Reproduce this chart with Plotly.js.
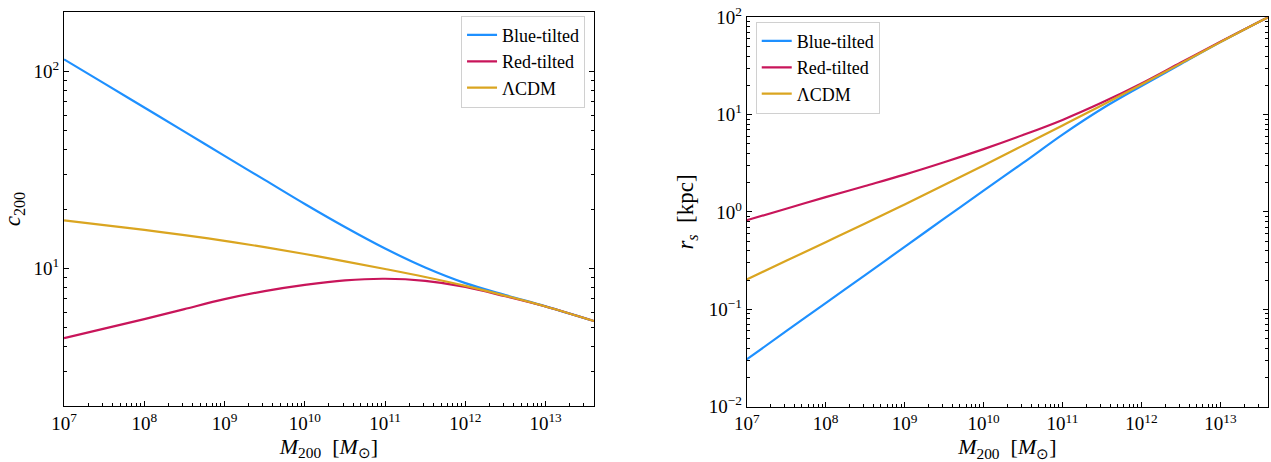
<!DOCTYPE html>
<html><head><meta charset="utf-8">
<script src="https://cdn.plot.ly/plotly-3.0.1.min.js"></script>
<style>html,body{margin:0;padding:0;background:#fff}#chart{width:1271px;height:462px}</style>
</head><body><div id="chart"></div>
<script>
// Halo mass grid [M_sun]
const mass = [1e7, 3.16e7, 1e8, 3.16e8, 1e9, 3.16e9, 1e10, 3.16e10, 1e11, 3.16e11, 1e12, 3.16e12, 1e13, 4e13];
// Concentration c200
const c200Blue = [115, 86.8, 65.5, 49.4, 37.2, 28.1, 21.2, 16.2, 12.6, 10.1, 8.41, 7.31, 6.41, 5.40];
const c200Red  = [4.42, 4.94, 5.52, 6.21, 6.97, 7.66, 8.24, 8.69, 8.85, 8.63, 8.05, 7.21, 6.40, 5.40];
const c200LCDM = [17.5, 16.58, 15.67, 14.74, 13.79, 12.81, 11.82, 10.85, 9.92, 9.03, 8.14, 7.25, 6.40, 5.40];
// Scale radius r_s [kpc]
const rsBlue = [0.0306, 0.0596, 0.116, 0.225, 0.439, 0.853, 1.66, 3.19, 6.24, 11.5, 19.7, 33.1, 55.6, 100];
const rsRed  = [0.822, 1.08, 1.42, 1.85, 2.42, 3.24, 4.42, 6.17, 8.83, 13.3, 20.9, 34.3, 56.2, 100];
const rsLCDM = [0.203, 0.315, 0.489, 0.762, 1.197, 1.892, 3.01, 4.82, 7.74, 12.5, 20.4, 33.6, 55.6, 100];

const seriesNames = ['Blue-tilted', 'Red-tilted', 'ΛCDM'];
const xTickVals = [1e7, 1e8, 1e9, 1e10, 1e11, 1e12, 1e13];
const xTickText = ['10<sup>7</sup>', '10<sup>8</sup>', '10<sup>9</sup>', '10<sup>10</sup>', '10<sup>11</sup>', '10<sup>12</sup>', '10<sup>13</sup>'];
const y1TickVals = [10, 100];
const y1TickText = ['10<sup>1</sup>', '10<sup>2</sup>'];
const y2TickVals = [0.01, 0.1, 1, 10, 100];
const y2TickText = ['10<sup>−2</sup>', '10<sup>−1</sup>', '10<sup>0</sup>', '10<sup>1</sup>', '10<sup>2</sup>'];

const colors = ['#1E90FF', '#C8155A', '#DAA520'];
const FONT = 'Liberation Serif, Times New Roman, serif';

function tr(y, i, xa, ya, leg) {
  return {x: mass, y: y, type: 'scatter', mode: 'lines', name: seriesNames[i],
    xaxis: xa, yaxis: ya, legend: leg,
    line: {color: colors[i], width: 2.2, shape: 'spline', smoothing: 1}};
}
const data = [
  tr(c200Blue, 0, 'x', 'y', 'legend'),
  tr(c200Red, 1, 'x', 'y', 'legend'),
  tr(c200LCDM, 2, 'x', 'y', 'legend'),
  tr(rsBlue, 0, 'x2', 'y2', 'legend2'),
  tr(rsRed, 1, 'x2', 'y2', 'legend2'),
  tr(rsLCDM, 2, 'x2', 'y2', 'legend2')
];

function xax(domain, anchor) {
  return {type: 'log', domain: domain, anchor: anchor, range: [7, Math.log10(4e13)],
    tickvals: xTickVals, ticktext: xTickText, ticks: 'inside', ticklen: 5, tickwidth: 1,
    tickcolor: '#000', showline: true, linecolor: '#000', linewidth: 1, mirror: true,
    showgrid: false, zeroline: false,
    minor: {dtick: 'D1', ticks: 'inside', ticklen: 3, tickcolor: '#000', showgrid: false},
    tickfont: {family: FONT, size: 19, color: '#000'},
    title: {text: '<i>M</i><sub>200</sub>  [<i>M</i><sub>⊙</sub>]', font: {family: FONT, size: 22, color: '#000'}, standoff: 2}};
}
function yax(domain, anchor, range, tv, tt, title) {
  return {type: 'log', domain: domain, anchor: anchor, range: range,
    tickvals: tv, ticktext: tt, ticks: 'inside', ticklen: 5, tickwidth: 1,
    tickcolor: '#000', showline: true, linecolor: '#000', linewidth: 1, mirror: 'ticks',
    showgrid: false, zeroline: false,
    minor: {dtick: 'D1', ticks: 'inside', ticklen: 3, tickcolor: '#000', showgrid: false},
    tickfont: {family: FONT, size: 19, color: '#000'},
    title: {text: title, font: {family: FONT, size: 23, color: '#000'}, standoff: 8}};
}

const legendBase = {bgcolor: 'rgba(255,255,255,0.8)', bordercolor: '#d0d0d0', borderwidth: 1,
  font: {family: FONT, size: 18, color: '#000'}, yanchor: 'top'};

const layout = {
  width: 1271, height: 462,
  margin: {l: 0, r: 0, t: 0, b: 0},
  paper_bgcolor: '#fff', plot_bgcolor: '#fff',
  showlegend: true,
  xaxis: xax([0.0504, 0.4673], 'y'),
  yaxis: yax([0.1212, 0.974], 'x', [Math.log10(2), Math.log10(200)], y1TickVals, y1TickText, '<i>c</i><sub>200</sub>'),
  xaxis2: xax([0.5875, 0.9976], 'y2'),
  yaxis2: yax([0.1197, 0.9626], 'x2', [-2, 2], y2TickVals, y2TickText, '<i>r<sub>s</sub></i>  [kpc]'),
  legend: Object.assign({x: 0.4603, xanchor: 'right', y: 0.966}, legendBase),
  legend2: Object.assign({x: 0.5946, xanchor: 'left', y: 0.953}, legendBase)
};

Plotly.newPlot('chart', data, layout, {staticPlot: true, displayModeBar: false});
</script></body></html>
